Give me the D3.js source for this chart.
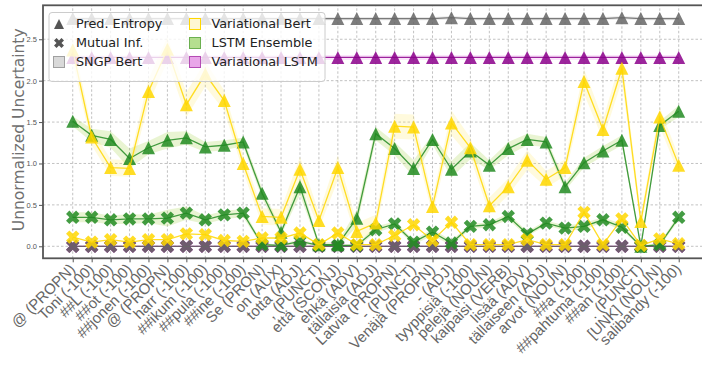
<!DOCTYPE html>
<html>
<head>
<meta charset="utf-8">
<script src="https://cdn.jsdelivr.net/npm/d3@7"></script>
<style>
  body { margin: 0; background: #fff; }
  svg { display: block; font-family: "DejaVu Sans", sans-serif; }
</style>
</head>
<body>
<div id="chart"></div>
<script>
// tokens on the x axis
const labels = ['@ (PROPN)', 'Toni (-100)', '##L (-100)', '##ot (-100)', '##jonen (-100)', '@ (PROPN)',
  'harr (-100)', '##ikum (-100)', '##pula (-100)', '##ine (-100)', 'Se (PRON)', 'on (AUX)', 'totta (ADJ)',
  ', (PUNCT)', 'että (SCONJ)', 'ehkä (ADV)', 'tällaisia (ADJ)', 'Latvia (PROPN)', '- (PUNCT)', 'Venäjä (PROPN)',
  '- (ADJ)', 'tyyppisiä (-100)', 'pelejä (NOUN)', 'kaipaisi (VERB)', 'lisää (ADV)', 'tällaiseen (ADJ)',
  'arvot (NOUN)', '##a (-100)', '##pahtuma (-100)', '##an (-100)', '. (PUNCT)', '[UNK] (NOUN)', 'salibandy (-100)'];

const yTicks = [0, 0.5, 1.0, 1.5, 2.0, 2.5];

// predictive entropy
const entSngp = [2.75, 2.75, 2.75, 2.75, 2.75, 2.75, 2.75, 2.75, 2.75, 2.75, 2.75, 2.75, 2.75, 2.75, 2.75, 2.75, 2.75,
  2.75, 2.75, 2.75, 2.76, 2.75, 2.75, 2.75, 2.75, 2.75, 2.75, 2.75, 2.75, 2.76, 2.75, 2.75, 2.75];
const entVarBert = [2.37, 1.32, 0.95, 0.94, 1.87, 2.38, 1.71, 2.08, 1.76, 1.00, 0.36, 0.35, 0.93, 0.31, 0.95, 0.18, 0.28,
  1.45, 1.44, 0.48, 1.49, 1.19, 0.49, 0.72, 1.04, 0.81, 0.95, 1.99, 1.41, 2.15, 0.30, 1.56, 0.98];
const entLstmEns = [1.51, 1.34, 1.29, 1.06, 1.19, 1.28, 1.31, 1.20, 1.22, 1.26, 0.64, 0.17, 0.72, 0.02, 0.02, 0.34, 1.36,
  1.18, 0.94, 1.29, 0.93, 1.15, 0.98, 1.18, 1.29, 1.26, 0.72, 1.01, 1.15, 1.28, 0.00, 1.46, 1.63];
const entVarLstm = [2.28, 2.28, 2.28, 2.28, 2.28, 2.28, 2.28, 2.28, 2.28, 2.28, 2.28, 2.28, 2.28, 2.28, 2.28, 2.28, 2.28,
  2.28, 2.28, 2.28, 2.28, 2.28, 2.28, 2.28, 2.28, 2.28, 2.28, 2.28, 2.28, 2.28, 2.28, 2.28, 2.28];

// mutual information
const miSngp = [0, 0, 0, 0, 0, 0, 0, 0, 0, 0, 0, 0, 0, 0, 0, 0, 0, 0, 0, 0, 0, 0, 0, 0, 0, 0, 0, 0, 0, 0, 0, 0, 0];
const miVarBert = [0.11, 0.05, 0.08, 0.05, 0.08, 0.08, 0.15, 0.14, 0.07, 0.06, 0.10, 0.10, 0.16, 0.02, 0.16, 0.02, 0.02,
  0.13, 0.26, 0.07, 0.29, 0.02, 0.02, 0.02, 0.08, 0.02, 0.02, 0.41, 0.02, 0.33, 0.01, 0.09, 0.03];
const miLstmEns = [0.35, 0.35, 0.32, 0.33, 0.33, 0.34, 0.40, 0.32, 0.38, 0.40, 0.02, 0.01, 0.06, 0.01, 0.01, 0.01, 0.20,
  0.27, 0.05, 0.17, 0.04, 0.24, 0.26, 0.36, 0.15, 0.28, 0.22, 0.24, 0.32, 0.23, 0.00, 0.02, 0.35];
const miVarLstm = [0, 0, 0, 0, 0, 0, 0, 0, 0, 0, 0, 0, 0, 0, 0, 0, 0, 0, 0, 0, 0, 0, 0, 0, 0, 0, 0, 0, 0, 0, 0, 0, 0];

// spread (std) used for the shaded bands
const entStdLstmEns = [0.06, 0.08, 0.10, 0.12, 0.08, 0.10, 0.08, 0.06, 0.06, 0.05, 0.06, 0.04, 0.10, 0.03, 0.03, 0.10,
  0.08, 0.08, 0.10, 0.06, 0.10, 0.10, 0.06, 0.08, 0.07, 0.06, 0.05, 0.06, 0.06, 0.06, 0.02, 0.05, 0.07];
const miStdLstmEns = [0.06, 0.06, 0.05, 0.06, 0.05, 0.10, 0.08, 0.05, 0.05, 0.05, 0.02, 0.01, 0.03, 0.01, 0.01, 0.02,
  0.04, 0.03, 0.03, 0.04, 0.03, 0.03, 0.03, 0.04, 0.03, 0.03, 0.03, 0.04, 0.03, 0.04, 0.01, 0.02, 0.04];
const entStdVarBert = [0.15, 0.1, 0.1, 0.1, 0.15, 0.15, 0.15, 0.15, 0.12, 0.1, 0.1, 0.1, 0.15, 0.1, 0.15, 0.1, 0.1,
  0.15, 0.15, 0.1, 0.15, 0.12, 0.1, 0.1, 0.12, 0.1, 0.1, 0.15, 0.12, 0.15, 0.08, 0.12, 0.1];
const entStdVarLstm = [0.03, 0.03, 0.03, 0.03, 0.03, 0.03, 0.03, 0.03, 0.03, 0.03, 0.03, 0.03, 0.03, 0.03, 0.03, 0.03,
  0.03, 0.03, 0.03, 0.03, 0.03, 0.03, 0.03, 0.03, 0.03, 0.03, 0.03, 0.03, 0.03, 0.03, 0.03, 0.03, 0.03];
const entStdSngp = [0.02, 0.02, 0.02, 0.02, 0.02, 0.02, 0.02, 0.02, 0.02, 0.02, 0.02, 0.02, 0.02, 0.02, 0.02, 0.02,
  0.02, 0.02, 0.02, 0.02, 0.02, 0.02, 0.02, 0.02, 0.02, 0.02, 0.02, 0.02, 0.02, 0.02, 0.02, 0.02, 0.02];

const series = [
  { name: 'Variational LSTM', ent: entVarLstm, mi: miVarLstm, entStd: entStdVarLstm, miStd: null,
    color: '#8b008b', band: 'violet', patchFill: '#e9a6e9', patchStroke: '#b44cb4' },
  { name: 'SNGP Bert', ent: entSngp, mi: miSngp, entStd: entStdSngp, miStd: null,
    color: '#666666', band: '#999999', patchFill: '#d9d9d9', patchStroke: '#a0a0a0' },
  { name: 'LSTM Ensemble', ent: entLstmEns, mi: miLstmEns, entStd: entStdLstmEns, miStd: miStdLstmEns,
    color: '#228b22', band: 'yellowgreen', patchFill: '#b5df8f', patchStroke: '#6cb050' },
  { name: 'Variational Bert', ent: entVarBert, mi: miVarBert, entStd: entStdVarBert, miStd: null,
    color: '#ffd700', band: '#ffe866', patchFill: '#fff7d1', patchStroke: '#ffd700' }
];

const W = 702, H = 371;
const margin = { top: 5.3, right: 0, bottom: 112.7, left: 43 };

const svg = d3.select('#chart').append('svg').attr('width', W).attr('height', H);

const x = d3.scaleLinear().domain([-1.57, 33.23]).range([margin.left, W - margin.right]);
const y = d3.scaleLinear().domain([-0.145, 2.91]).range([H - margin.bottom, margin.top]);

// grid
const grid = svg.append('g').attr('stroke', '#b3b3b3').attr('stroke-width', 0.8).attr('stroke-dasharray', '2.5,2');
grid.selectAll('.gx').data(labels).enter().append('line')
  .attr('x1', (d, i) => x(i)).attr('x2', (d, i) => x(i))
  .attr('y1', y.range()[0]).attr('y2', y.range()[1]);
grid.selectAll('.gy').data(yTicks).enter().append('line')
  .attr('x1', x.range()[0]).attr('x2', x.range()[1])
  .attr('y1', d => y(d)).attr('y2', d => y(d));

const plot = svg.append('g');

const area = (vals, std) => d3.area()
  .x((d, i) => x(i))
  .y0((d, i) => y(vals[i] - std[i]))
  .y1((d, i) => y(vals[i] + std[i]))(vals);
const line = d3.line().x((d, i) => x(i)).y(d => y(d));

// bands under everything
series.forEach(s => {
  plot.append('path').attr('d', area(s.ent, s.entStd)).attr('fill', s.band).attr('fill-opacity', 0.22);
  if (s.miStd) plot.append('path').attr('d', area(s.mi, s.miStd)).attr('fill', s.band).attr('fill-opacity', 0.22);
});

const tri = 'M0,-6.5L6.5,6.5L-6.5,6.5Z';
const cross = d3.symbol().type(d3.symbolCross).size(112)();

series.forEach(s => {
  [s.ent, s.mi].forEach((vals, k) => {
    plot.append('path').attr('d', line(vals)).attr('fill', 'none')
      .attr('stroke', s.color).attr('stroke-opacity', 0.85).attr('stroke-width', 1.3);
    plot.selectAll(null).data(vals).enter().append('path')
      .attr('d', k === 0 ? tri : cross)
      .attr('transform', (d, i) => 'translate(' + x(i) + ',' + y(d) + ')' + (k === 0 ? '' : ' rotate(45)'))
      .attr('fill', s.color).attr('fill-opacity', 0.85);
  });
});

// axes
const xAxis = d3.axisBottom(x).tickValues(d3.range(labels.length)).tickFormat(i => labels[i]).tickSize(4).tickPadding(3);
const gx = svg.append('g').attr('transform', 'translate(0,' + y.range()[0] + ')').call(xAxis);
gx.select('.domain').remove();
gx.selectAll('.tick line').attr('stroke', '#555');
gx.selectAll('text')
  .attr('fill', '#666').style('font-size', '15px').style('text-anchor', 'end')
  .attr('x', -1).attr('y', 8).attr('dy', '0.35em')
  .attr('transform', 'rotate(-45,-1,8)');

const yAxis = d3.axisLeft(y).tickValues(yTicks).tickFormat(d3.format('.1f')).tickSize(4).tickPadding(2);
const gy = svg.append('g').attr('transform', 'translate(' + margin.left + ',0)').call(yAxis);
gy.select('.domain').remove();
gy.selectAll('.tick line').attr('stroke', '#555');
gy.selectAll('text').attr('fill', '#555').style('font-size', '7.5px');

// frame
svg.append('rect')
  .attr('x', margin.left).attr('y', margin.top)
  .attr('width', W + 10 - margin.left).attr('height', y.range()[0] - margin.top)
  .attr('fill', 'none').attr('stroke', '#555').attr('stroke-width', 1.8);

svg.append('text')
  .attr('transform', 'translate(19,' + ((y.range()[0] + y.range()[1]) / 2 - 2) + ') rotate(-90)')
  .attr('text-anchor', 'middle').attr('dy', '0.35em')
  .attr('fill', '#707070').style('font-size', '15.5px')
  .text('Unnormalized Uncertainty');

// legend
const lg = svg.append('g').attr('transform', 'translate(49,12.5)');
lg.append('rect').attr('width', 276).attr('height', 69).attr('rx', 3)
  .attr('fill', '#fff').attr('fill-opacity', 0.8).attr('stroke', '#cccccc');

const rowY = [11.5, 30.5, 49.5];
const leftItems = [
  { label: 'Pred. Entropy', kind: 'tri' },
  { label: 'Mutual Inf.', kind: 'cross' },
  { label: 'SNGP Bert', kind: 'patch', s: series[1] }
];
const rightItems = [series[3], series[2], series[0]];

leftItems.forEach((it, i) => {
  const g = lg.append('g').attr('transform', 'translate(10,' + rowY[i] + ')');
  if (it.kind === 'tri') g.append('path').attr('d', 'M0,-5L5,5L-5,5Z').attr('fill', '#555');
  else if (it.kind === 'cross') g.append('path').attr('d', d3.symbol().type(d3.symbolCross).size(62)()).attr('transform', 'rotate(45)').attr('fill', '#555');
  else g.append('rect').attr('x', -5.5).attr('y', -5.5).attr('width', 11).attr('height', 11)
    .attr('fill', it.s.patchFill).attr('stroke', it.s.patchStroke);
  g.append('text').attr('x', 17).attr('dy', '0.35em').attr('fill', '#222').style('font-size', '12.8px').text(it.label);
});
rightItems.forEach((s, i) => {
  const g = lg.append('g').attr('transform', 'translate(146,' + rowY[i] + ')');
  g.append('rect').attr('x', -5.5).attr('y', -5.5).attr('width', 11).attr('height', 11)
    .attr('fill', s.patchFill).attr('stroke', s.patchStroke);
  g.append('text').attr('x', 16.5).attr('dy', '0.35em').attr('fill', '#222').style('font-size', '12.8px').text(s.name);
});
</script>
</body>
</html>
